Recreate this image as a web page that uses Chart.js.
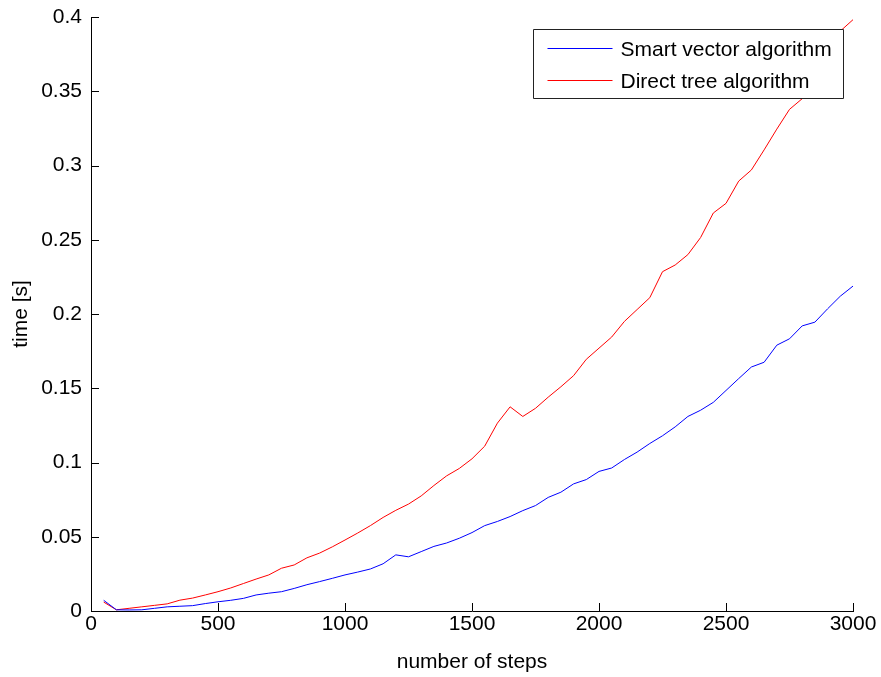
<!DOCTYPE html>
<html>
<head>
<meta charset="utf-8">
<script src="https://cdn.jsdelivr.net/npm/chart.js@4/dist/chart.umd.min.js"></script>
<style>
  html, body { margin: 0; padding: 0; background: #ffffff; }
  #wrap { width: 881px; height: 677px; }
</style>
</head>
<body>
<div id="wrap"><canvas id="c" width="881" height="677"></canvas></div>
<script>
// Number of simulation steps at which both algorithms were timed
const steps = [
  50, 100, 150, 200, 250, 300, 350, 400, 450, 500,
  550, 600, 650, 700, 750, 800, 850, 900, 950, 1000,
  1050, 1100, 1150, 1200, 1250, 1300, 1350, 1400, 1450, 1500,
  1550, 1600, 1650, 1700, 1750, 1800, 1850, 1900, 1950, 2000,
  2050, 2100, 2150, 2200, 2250, 2300, 2350, 2400, 2450, 2500,
  2550, 2600, 2650, 2700, 2750, 2800, 2850, 2900, 2950, 3000
];

// Run time [s] of the smart vector algorithm
const smartVectorTimes = [
  0.0072, 0.0008, 0.0007, 0.0008, 0.0018, 0.0028, 0.0032, 0.0036, 0.0050, 0.0062,
  0.0072, 0.0085, 0.0108, 0.0120, 0.0130, 0.0152, 0.0177, 0.0198, 0.0220, 0.0243,
  0.0262, 0.0283, 0.0318, 0.0378, 0.0365, 0.0400, 0.0435, 0.0458, 0.0490, 0.0528,
  0.0575, 0.0603, 0.0636, 0.0676, 0.0710, 0.0765, 0.0800, 0.0856, 0.0885, 0.0940,
  0.0963, 0.1020, 0.1070, 0.1128, 0.1180, 0.1240, 0.1310, 0.1352, 0.1405, 0.1485,
  0.1565, 0.1643, 0.1675, 0.1790, 0.1833, 0.1920, 0.1945, 0.2035, 0.2120, 0.2188
];

// Run time [s] of the direct tree algorithm
const directTreeTimes = [
  0.0060, 0.0008, 0.0018, 0.0028, 0.0038, 0.0048, 0.0073, 0.0087, 0.0108, 0.0130,
  0.0155, 0.0185, 0.0215, 0.0243, 0.0288, 0.0310, 0.0358, 0.0390, 0.0432, 0.0478,
  0.0525, 0.0575, 0.0630, 0.0678, 0.0720, 0.0775, 0.0845, 0.0910, 0.0960, 0.1025,
  0.1110, 0.1265, 0.1375, 0.1310, 0.1365, 0.1440, 0.1510, 0.1585, 0.1695, 0.1770,
  0.1845, 0.1950, 0.2030, 0.2110, 0.2285, 0.2330, 0.2400, 0.2515, 0.2680, 0.2745,
  0.2895, 0.2970, 0.3105, 0.3245, 0.3378, 0.3450, 0.3580, 0.3720, 0.3905, 0.3982
];

const seriesNames = ['Smart vector algorithm', 'Direct tree algorithm'];
const seriesColors = ['#0000ff', '#ff0000'];

// Axis ticks
const xTickValues = [0, 500, 1000, 1500, 2000, 2500, 3000];
const xTickLabels = ['0', '500', '1000', '1500', '2000', '2500', '3000'];
const yTickValues = [0, 0.05, 0.1, 0.15, 0.2, 0.25, 0.3, 0.35, 0.4];
const yTickLabels = ['0', '0.05', '0.1', '0.15', '0.2', '0.25', '0.3', '0.35', '0.4'];

const FONT = 'Liberation Sans, Arial, Helvetica, sans-serif';
const FONT_SIZE = 21;

function toPoints(xs, ys) {
  return xs.map((x, i) => ({ x: x, y: ys[i] }));
}

// Inward-pointing tick marks on the left and bottom axes
const inwardTicks = {
  id: 'inwardTicks',
  afterDatasetsDraw(chart) {
    const { ctx, chartArea, scales } = chart;
    const len = 8;
    ctx.save();
    ctx.strokeStyle = '#000000';
    ctx.lineWidth = 1;
    ctx.beginPath();
    xTickValues.forEach(v => {
      const px = Math.round(scales.x.getPixelForValue(v)) + 0.5;
      ctx.moveTo(px, chartArea.bottom);
      ctx.lineTo(px, chartArea.bottom - len);
    });
    yTickValues.forEach(v => {
      const py = Math.round(scales.y.getPixelForValue(v)) + 0.5;
      ctx.moveTo(chartArea.left, py);
      ctx.lineTo(chartArea.left + len, py);
    });
    ctx.stroke();
    ctx.restore();
  }
};

// Boxed legend in the upper right corner, drawn on top of the lines
const boxedLegend = {
  id: 'boxedLegend',
  afterDatasetsDraw(chart) {
    const { ctx, chartArea } = chart;
    const sets = chart.data.datasets;
    ctx.save();
    ctx.font = FONT_SIZE + 'px ' + FONT;
    const textW = Math.max(...sets.map(d => ctx.measureText(d.label).width));
    const padL = 14, lineLen = 65, gap = 8, padR = 12, rowH = 32, padV = 2;
    const w = Math.round(padL + lineLen + gap + textW + padR);
    const h = sets.length * rowH + padV * 2 + 1;
    const right = Math.round(chartArea.right - 10);
    const x0 = right - w + 0.5;
    const y0 = Math.round(chartArea.top + 12) + 0.5;
    ctx.fillStyle = '#ffffff';
    ctx.fillRect(x0, y0, w, h);
    ctx.lineWidth = 1;
    ctx.strokeStyle = '#222222';
    ctx.beginPath();
    ctx.rect(x0, y0, w, h);
    ctx.stroke();
    sets.forEach((d, i) => {
      const cy = Math.round(y0 + padV + 16 + i * rowH) + 0.5;
      ctx.beginPath();
      ctx.strokeStyle = d.borderColor;
      ctx.lineWidth = 1;
      ctx.moveTo(x0 + padL, cy);
      ctx.lineTo(x0 + padL + lineLen, cy);
      ctx.stroke();
      ctx.fillStyle = '#000000';
      ctx.textBaseline = 'middle';
      ctx.textAlign = 'left';
      ctx.fillText(d.label, x0 + padL + lineLen + gap, cy + 2);
    });
    ctx.restore();
  }
};

new Chart(document.getElementById('c'), {
  type: 'line',
  data: {
    datasets: [
      {
        label: seriesNames[0],
        data: toPoints(steps, smartVectorTimes),
        borderColor: seriesColors[0],
        borderWidth: 1,
        pointRadius: 0,
        tension: 0,
        fill: false
      },
      {
        label: seriesNames[1],
        data: toPoints(steps, directTreeTimes),
        borderColor: seriesColors[1],
        borderWidth: 1,
        pointRadius: 0,
        tension: 0,
        fill: false
      }
    ]
  },
  options: {
    responsive: false,
    animation: false,
    devicePixelRatio: 1,
    layout: { padding: { left: 0, right: 28, top: 17, bottom: 0 } },
    plugins: {
      legend: { display: false },
      tooltip: { enabled: false }
    },
    scales: {
      x: {
        type: 'linear',
        min: 0,
        max: 3000,
        afterBuildTicks(scale) { scale.ticks = xTickValues.map(v => ({ value: v })); },
        afterFit(scale) { scale.height = 66; },
        ticks: {
          color: '#000000',
          font: { family: FONT, size: FONT_SIZE },
          padding: 1,
          maxRotation: 0,
          autoSkip: false,
          callback: (v, i) => xTickLabels[i]
        },
        grid: { display: false, drawTicks: false },
        border: { display: true, color: '#000000', width: 1 },
        title: {
          display: true,
          text: 'number of steps',
          color: '#000000',
          font: { family: FONT, size: FONT_SIZE },
          padding: { top: 0, bottom: 2 }
        }
      },
      y: {
        type: 'linear',
        min: 0,
        max: 0.4,
        afterBuildTicks(scale) { scale.ticks = yTickValues.map(v => ({ value: v })); },
        afterFit(scale) {
          scale.width = 91;
          // let the layout padding alone decide the top edge of the plot
          scale.paddingTop = 0;
        },
        ticks: {
          color: '#000000',
          font: { family: FONT, size: FONT_SIZE },
          padding: 9,
          autoSkip: false,
          callback: (v, i) => yTickLabels[i]
        },
        grid: { display: false, drawTicks: false },
        border: { display: true, color: '#000000', width: 1 },
        title: {
          display: true,
          text: 'time [s]',
          color: '#000000',
          font: { family: FONT, size: FONT_SIZE },
          padding: { top: 9, bottom: 0 }
        }
      }
    }
  },
  plugins: [inwardTicks, boxedLegend]
});
</script>
</body>
</html>
